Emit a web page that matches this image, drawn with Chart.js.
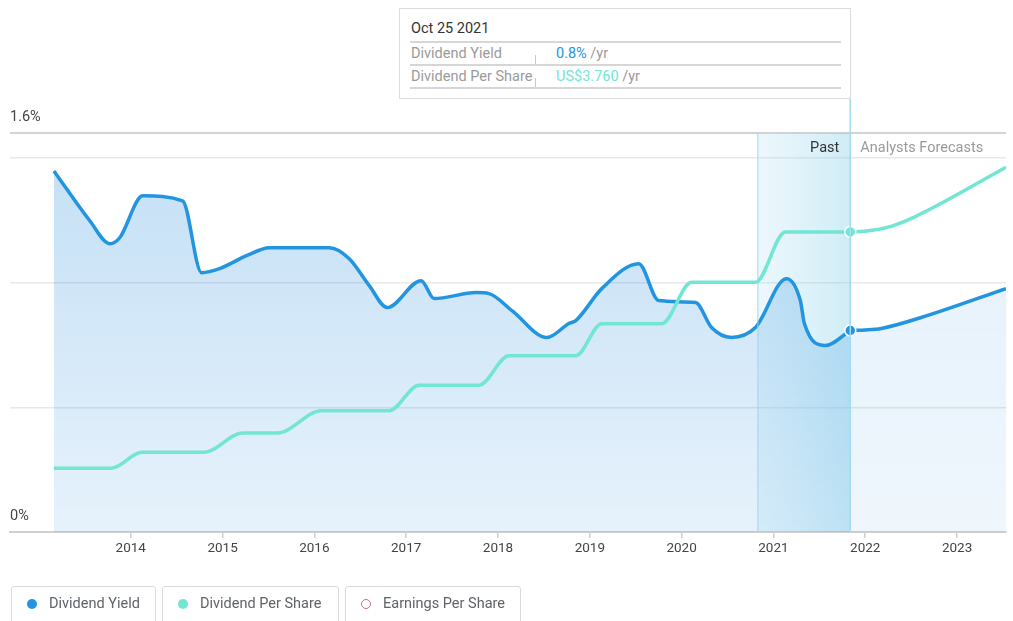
<!DOCTYPE html>
<html>
<head>
<meta charset="utf-8">
<script src="https://cdn.jsdelivr.net/npm/chart.js@4.4.1/dist/chart.umd.min.js"></script>
<style>
  body { margin: 0; background: #fff; font-family: Roboto, "Open Sans", sans-serif; }
  #wrap { position: relative; width: 1013px; height: 621px; overflow: hidden; }
  #chart { position: absolute; left: 0; top: 0; }
  .tip { position: absolute; left: 399px; top: 8px; width: 452px; height: 91px; border: 1px solid #dcdcdc; background: #fff; box-sizing: border-box; }
  .tip .title { position: absolute; left: 11px; top: 11px; font-size: 14.5px; color: #333; }
  .tip .row { position: absolute; left: 10px; width: 431px; height: 21px; border-top: 2px solid #d6d6d6; font-size: 14.5px; line-height: 21px; }
  .tip .row.last { border-bottom: 2px solid #d6d6d6; }
  .tip .lbl { position: absolute; left: 1px; color: #9a9a9a; }
  .tip .sep { position: absolute; left: 125px; top: 12px; height: 9px; border-left: 1px solid #c8c8c8; }
  .tip .val { position: absolute; left: 146px; color: #9a9a9a; }
  .legend { position: absolute; top: 586px; height: 44px; border: 1px solid #dadada; border-radius: 3px; box-sizing: border-box; font-size: 14.5px; color: #5f6368; }
  .legend span.dot { position: absolute; left: 15px; top: 12px; width: 10px; height: 10px; border-radius: 50%; box-sizing: border-box; }
  .legend span.txt { position: absolute; left: 37px; top: 8px; }
</style>
</head>
<body>
<div id="wrap">
  <canvas id="chart" width="1013" height="621"></canvas>
  <div class="tip">
    <div class="title" id="tipDate"></div>
    <div class="row" style="top:32px"><span class="lbl">Dividend Yield</span><span class="sep"></span><span class="val"><span id="tipYield" style="color:#2394df"></span> /yr</span></div>
    <div class="row last" style="top:55px"><span class="lbl">Dividend Per Share</span><span class="sep"></span><span class="val"><span id="tipDps" style="color:#72e5d3"></span> /yr</span></div>
  </div>
  <div class="legend" style="left:11px;width:145px"><span class="dot" style="background:#2394df"></span><span class="txt">Dividend Yield</span></div>
  <div class="legend" style="left:162px;width:177px"><span class="dot" style="background:#72e5d3"></span><span class="txt">Dividend Per Share</span></div>
  <div class="legend" style="left:345px;width:176px"><span class="dot" style="border:1.5px solid #d0679d"></span><span class="txt">Earnings Per Share</span></div>
</div>
<script>
// dividend yield (%), past
const yieldYears = [2013.163, 2013.554, 2013.772, 2013.88, 2014.13, 2014.565, 2014.772, 2014.967, 2015.261, 2015.511,
  2016.163, 2016.38, 2016.598, 2016.793, 2017.163, 2017.304, 2017.761, 2017.902, 2018.152, 2018.533, 2018.772,
  2018.848, 2019.13, 2019.533, 2019.75, 2020.152, 2020.326, 2020.543, 2020.804, 2021.141, 2021.293, 2021.337,
  2021.565, 2021.837];
const yieldValues = [1.448, 1.248, 1.156, 1.18, 1.348, 1.328, 1.04, 1.056, 1.108, 1.14,
  1.14, 1.096, 0.988, 0.9, 1.008, 0.936, 0.96, 0.956, 0.888, 0.78, 0.836,
  0.848, 0.976, 1.076, 0.928, 0.92, 0.82, 0.78, 0.82, 1.016, 0.928, 0.836,
  0.748, 0.808];
// dividend yield forecast
const yieldFcYears = [2021.837, 2022.0, 2022.174, 2022.609, 2023.533];
const yieldFcValues = [0.808, 0.81, 0.816, 0.86, 0.976];

// dividend per share (US$), past
const dpsYears = [2013.163, 2013.793, 2014.12, 2014.804, 2015.217, 2015.598, 2016.076, 2016.815, 2017.141, 2017.793,
  2018.12, 2018.848, 2019.13, 2019.783, 2020.109, 2020.804, 2021.13, 2021.837];
const dpsValues = [0.80, 0.80, 1.00, 1.00, 1.24, 1.24, 1.52, 1.52, 1.84, 1.84,
  2.21, 2.21, 2.61, 2.61, 3.13, 3.13, 3.76, 3.76];
// dividend per share forecast
const dpsFcYears = [2021.837, 2022.0, 2022.25, 2022.54, 2023.533];
const dpsFcValues = [3.76, 3.77, 3.82, 3.95, 4.57];

const xTickYears = [2014, 2015, 2016, 2017, 2018, 2019, 2020, 2021, 2022, 2023];
const yGridValues = [0, 0.5, 1, 1.5, 1.6];
const yTickValues = [0, 1.6];
const yTickLabels = ["0%", "1.6%"];
const pastStart = 2020.83;
const tipDate = "Oct 25 2021";

const YIELD = "#2394df";
const DPS = "#72e5d3";

function toPoints(xs, ys) {
  return xs.map((x, i) => ({ x, y: ys[i] }));
}

function lastOnly(ctx) {
  return ctx.dataIndex === ctx.dataset.data.length - 1 ? 5.5 : 0;
}

document.getElementById("tipDate").textContent = tipDate;
document.getElementById("tipYield").textContent = yieldValues[yieldValues.length - 1].toFixed(1) + "%";
document.getElementById("tipDps").textContent = "US$" + dpsValues[dpsValues.length - 1].toFixed(3);

const pastPlugin = {
  id: "pastBand",
  beforeDatasetsDraw(chart) {
    const { ctx, chartArea, scales } = chart;
    const x0 = scales.x.getPixelForValue(pastStart);
    const x1 = scales.x.getPixelForValue(yieldYears[yieldYears.length - 1]);
    const g = ctx.createLinearGradient(x0, 0, x1, 0);
    g.addColorStop(0, "rgba(185,228,245,0.28)");
    g.addColorStop(1, "rgba(130,205,234,0.38)");
    ctx.save();
    ctx.fillStyle = g;
    ctx.fillRect(x0, chartArea.top, x1 - x0, chartArea.bottom - chartArea.top);
    ctx.restore();
  },
  afterDatasetsDraw(chart) {
    const { ctx, chartArea, scales } = chart;
    const x0 = scales.x.getPixelForValue(pastStart);
    const x1 = scales.x.getPixelForValue(yieldYears[yieldYears.length - 1]);
    ctx.save();
    ctx.lineWidth = 1.5;
    ctx.strokeStyle = "rgba(150,210,235,0.6)";
    ctx.beginPath();
    ctx.moveTo(x0, chartArea.top);
    ctx.lineTo(x0, chartArea.bottom);
    ctx.stroke();
    ctx.strokeStyle = "#a3dcef";
    ctx.beginPath();
    ctx.moveTo(x1, 99);
    ctx.lineTo(x1, chartArea.bottom);
    ctx.stroke();

    ctx.font = "14.5px Roboto, sans-serif";
    ctx.textBaseline = "middle";
    ctx.textAlign = "right";
    ctx.fillStyle = "#333";
    ctx.fillText("Past", x1 - 11, chartArea.top + 15);
    ctx.textAlign = "left";
    ctx.fillStyle = "#9a9a9a";
    ctx.fillText("Analysts Forecasts", x1 + 10, chartArea.top + 15);

    // y tick labels, drawn inside the plot above their lines
    ctx.fillStyle = "#444";
    yTickValues.forEach((v, i) => {
      const y = scales.y.getPixelForValue(v);
      ctx.fillText(yTickLabels[i], chartArea.left, y - 16);
    });
    ctx.restore();
  }
};

function fillGradient(top, bottom) {
  return (ctx) => {
    const area = ctx.chart.chartArea;
    if (!area) return top;
    const g = ctx.chart.ctx.createLinearGradient(0, area.top, 0, area.bottom);
    g.addColorStop(0, top);
    g.addColorStop(1, bottom);
    return g;
  };
}

new Chart(document.getElementById("chart"), {
  type: "line",
  data: {
    datasets: [
      {
        label: "Dividend Per Share",
        data: toPoints(dpsYears, dpsValues),
        yAxisID: "y2",
        borderColor: DPS,
        borderWidth: 3.5,
        pointRadius: lastOnly,
        pointBackgroundColor: DPS,
        pointBorderColor: "#fff",
        pointBorderWidth: 1.5,
        cubicInterpolationMode: "monotone",
        fill: false
      },
      {
        label: "Dividend Per Share forecast",
        data: toPoints(dpsFcYears, dpsFcValues),
        yAxisID: "y2",
        borderColor: DPS,
        borderWidth: 3.5,
        pointRadius: 0,
        cubicInterpolationMode: "monotone",
        fill: false
      },
      {
        label: "Dividend Yield",
        data: toPoints(yieldYears, yieldValues),
        yAxisID: "y",
        borderColor: YIELD,
        borderWidth: 3.5,
        pointRadius: lastOnly,
        pointBackgroundColor: YIELD,
        pointBorderColor: "#fff",
        pointBorderWidth: 1.5,
        cubicInterpolationMode: "monotone",
        fill: "origin",
        backgroundColor: fillGradient("rgba(30,136,220,0.27)", "rgba(30,136,220,0.11)")
      },
      {
        label: "Dividend Yield forecast",
        data: toPoints(yieldFcYears, yieldFcValues),
        yAxisID: "y",
        borderColor: YIELD,
        borderWidth: 3.5,
        pointRadius: 0,
        cubicInterpolationMode: "monotone",
        fill: "origin",
        backgroundColor: fillGradient("rgba(30,136,220,0.13)", "rgba(30,136,220,0.07)")
      }
    ]
  },
  options: {
    responsive: false,
    animation: false,
    layout: { padding: { left: 10, right: 1, top: 133, bottom: 0 } },
    plugins: { legend: { display: false }, tooltip: { enabled: false } },
    scales: {
      x: {
        type: "linear",
        min: 2012.685,
        max: 2023.533,
        afterBuildTicks: (scale) => { scale.ticks = xTickYears.map((v) => ({ value: v })); },
        afterFit: (scale) => { scale.height = 89; },
        grid: { drawOnChartArea: false, drawTicks: true, tickLength: 6, color: "#cfcfcf", lineWidth: 1.5 },
        border: { color: "#d0d0d0", width: 2 },
        ticks: { color: "#444", padding: 3, maxRotation: 0, font: { family: "Roboto", size: 13.5 }, callback: (v) => String(v) }
      },
      y: {
        min: 0,
        max: 1.6,
        afterBuildTicks: (scale) => { scale.ticks = yGridValues.map((v) => ({ value: v })); },
        afterFit: (scale) => { scale.width = 0; },
        grid: {
          drawTicks: false,
          color: (ctx) => (ctx.tick && ctx.tick.value === 1.6 ? "#d2d2d2" : "#e8e8e8"),
          lineWidth: (ctx) => (ctx.tick && ctx.tick.value === 1.6 ? 2 : 1.5)
        },
        border: { display: false },
        ticks: { display: false }
      },
      y2: {
        display: false,
        min: 0,
        max: 5
      }
    }
  },
  plugins: [pastPlugin]
});
</script>
</body>
</html>
